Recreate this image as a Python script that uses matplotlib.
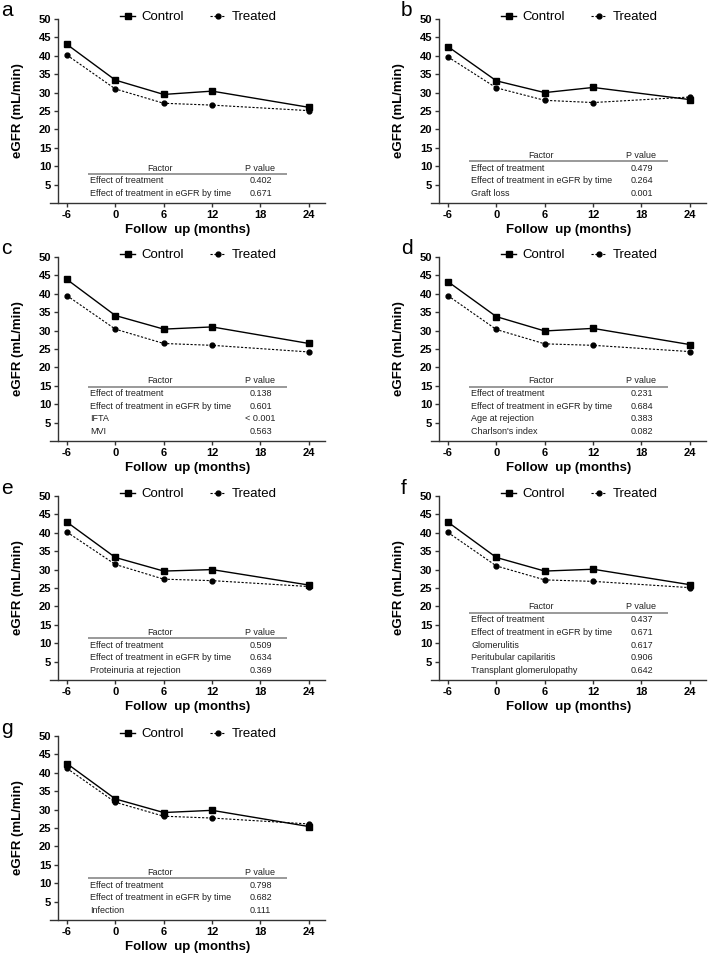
import matplotlib.pyplot as plt
from matplotlib.lines import Line2D

plt.rcParams['font.family'] = ['Liberation Sans', 'DejaVu Sans']
plt.rcParams['axes.unicode_minus'] = False

months = [-6, 0, 6, 12, 24]
panel_letters = ['a', 'b', 'c', 'd', 'e', 'f', 'g']

control = [
    [43.1, 33.4, 29.5, 30.4, 26.0],
    [42.5, 33.2, 30.0, 31.4, 28.1],
    [43.9, 34.1, 30.4, 31.0, 26.5],
    [43.3, 33.8, 29.9, 30.6, 26.2],
    [42.9, 33.3, 29.6, 30.0, 25.8],
    [42.9, 33.3, 29.6, 30.1, 25.9],
    [42.5, 32.9, 29.2, 29.8, 25.4],
]
treated = [
    [40.2, 31.0, 27.1, 26.6, 25.1],
    [39.7, 31.3, 27.9, 27.3, 28.8],
    [39.5, 30.4, 26.5, 26.0, 24.2],
    [39.5, 30.3, 26.4, 26.0, 24.3],
    [40.2, 31.4, 27.4, 27.0, 25.4],
    [40.1, 31.0, 27.2, 26.8, 25.1],
    [41.2, 32.0, 28.2, 27.7, 26.1],
]

factors = [
    ['Effect of treatment', 'Effect of treatment in eGFR by time'],
    ['Effect of treatment', 'Effect of treatment in eGFR by time', 'Graft loss'],
    ['Effect of treatment', 'Effect of treatment in eGFR by time', 'IFTA', 'MVI'],
    ['Effect of treatment', 'Effect of treatment in eGFR by time',
     'Age at rejection', "Charlson's index"],
    ['Effect of treatment', 'Effect of treatment in eGFR by time',
     'Proteinuria at rejection'],
    ['Effect of treatment', 'Effect of treatment in eGFR by time', 'Glomerulitis',
     'Peritubular capilaritis', 'Transplant glomerulopathy'],
    ['Effect of treatment', 'Effect of treatment in eGFR by time', 'Infection'],
]
pvalues = [
    ['0.402', '0.671'],
    ['0.479', '0.264', '0.001'],
    ['0.138', '0.601', '< 0.001', '0.563'],
    ['0.231', '0.684', '0.383', '0.082'],
    ['0.509', '0.634', '0.369'],
    ['0.437', '0.671', '0.617', '0.906', '0.642'],
    ['0.798', '0.682', '0.111'],
]

W, H = 709, 956
fig = plt.figure(figsize=(W / 100, H / 100), dpi=100)

col_left = [50, 431]
row_top = [19, 257, 496, 736]
ax_w, ax_h = 275, 184

for i in range(7):
    r, c = divmod(i, 2)
    x0 = col_left[c]
    y0 = row_top[r]
    ax = fig.add_axes([x0 / W, 1 - (y0 + ax_h) / H, ax_w / W, ax_h / H])

    ax.plot(months, control[i], color='black', lw=1.0, marker='s', ms=4,
            label='Control', zorder=3)
    ax.plot(months, treated[i], color='black', lw=0.8, ls=(0, (2, 1.5)),
            marker='o', ms=3.5, label='Treated', zorder=3)

    ax.set_xlim(-8.1, 26)
    ax.set_ylim(0, 50)
    ax.set_xticks([-6, 0, 6, 12, 18, 24])
    ax.set_yticks(range(5, 51, 5))
    for s in ['top', 'right']:
        ax.spines[s].set_visible(False)
    ax.spines['left'].set_position(('axes', 0.03))
    for s in ['left', 'bottom']:
        ax.spines[s].set_linewidth(1.0)
        ax.spines[s].set_color('#333333')
    ax.tick_params(direction='out', length=3, width=1.0, labelsize=8, pad=2,
                   color='#333333')
    for lab in ax.get_xticklabels() + ax.get_yticklabels():
        lab.set_fontweight('bold')
    ax.set_xlabel('Follow  up (months)', fontsize=9.5, fontweight='bold', labelpad=3)
    ax.set_ylabel('eGFR (mL/min)', fontsize=9.5, fontweight='bold', labelpad=11)

    handles = [
        Line2D([], [], color='black', lw=1.0, marker='s', ms=4),
        Line2D([], [], color='black', lw=0.8, ls=(0, (2, 1.5)), marker='o', ms=3.5),
    ]
    ax.legend(handles, ['Control', 'Treated'], loc='center', ncol=2,
              bbox_to_anchor=(0.54, 1.01), frameon=False, fontsize=9.5,
              handlelength=1.1, handletextpad=0.5, columnspacing=2.0,
              borderaxespad=0, borderpad=0)

    # p-value table
    n = len(factors[i])
    rows_y = [2.5 + 3.5 * k for k in range(n)][::-1]
    line_y = rows_y[0] + 1.8
    head_y = line_y + 1.7
    for f, p, y in zip(factors[i], pvalues[i], rows_y):
        ax.text(-3.1, y, f, fontsize=6.5, va='center', ha='left', color='#222222')
        ax.text(18, y, p, fontsize=6.5, va='center', ha='center', color='#222222')
    ax.hlines(line_y, -3.4, 21.3, color='#888888', lw=1.2)
    ax.text(5.6, head_y, 'Factor', fontsize=6.5, va='center', ha='center',
            color='#222222')
    ax.text(18, head_y, 'P value', fontsize=6.5, va='center', ha='center',
            color='#222222')

    lx = 1 if c == 0 else 401
    fig.text(lx / W, 1 - (y0 - 8) / H, panel_letters[i], fontsize=15,
             ha='left', va='center')

fig.savefig('out.png', dpi=100)
